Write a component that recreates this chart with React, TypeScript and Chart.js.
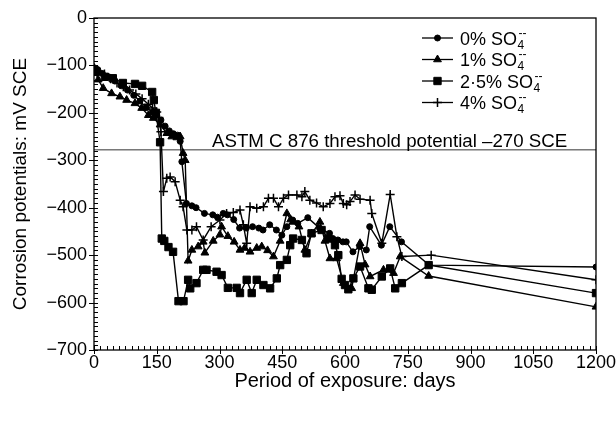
import React, { useEffect, useRef } from 'react';
import { Chart, registerables } from 'chart.js';
import { drawPoint } from 'chart.js/helpers';

Chart.register(...registerables);

const FONT = '"Liberation Sans", Arial, Helvetica, sans-serif';

// 0% SO4 (circles)
const days0 = [0, 9, 20, 35, 50, 65, 80, 95, 110, 125, 140, 150, 160, 170, 180, 190, 200, 206, 210, 221, 234, 244, 264, 284, 295, 309, 319, 334, 348, 364, 379, 394, 404, 420, 436, 449, 461, 475, 487, 511, 539, 563, 571, 583, 595, 603, 619, 635, 651, 659, 687, 707, 735, 801, 1200];
const mv0 = [-105, -109, -117, -124, -133, -143, -152, -163, -175, -189, -198, -205, -215, -228, -238, -244, -247, -260, -303, -391, -396, -400, -412, -415, -420, -412, -415, -425, -443, -443, -440, -443, -447, -436, -447, -458, -440, -426, -433, -421, -443, -454, -465, -468, -472, -472, -493, -482, -489, -440, -479, -440, -472, -521, -525];

// 1% SO4 (triangles)
const days1 = [0, 10, 22, 42, 62, 78, 98, 114, 130, 142, 158, 174, 186, 198, 206, 213, 218, 225, 234, 249, 261, 265, 285, 301, 305, 320, 335, 349, 360, 373, 389, 401, 415, 429, 445, 461, 470, 476, 490, 504, 520, 540, 552, 564, 580, 596, 616, 636, 648, 660, 692, 716, 732, 800, 1200];
const mv1 = [-105, -130, -148, -159, -166, -173, -180, -190, -205, -211, -225, -243, -250, -252, -250, -285, -300, -512, -489, -482, -472, -495, -470, -457, -440, -460, -472, -489, -485, -493, -485, -482, -490, -503, -470, -412, -425, -430, -440, -489, -455, -430, -470, -507, -507, -559, -570, -475, -520, -545, -531, -538, -503, -544, -609];

// 2.5% SO4 (squares)
const days25 = [0, 6, 26, 45, 69, 98, 115, 139, 143, 148, 158, 162, 168, 178, 189, 202, 214, 225, 230, 245, 261, 269, 293, 305, 320, 341, 349, 365, 377, 389, 405, 421, 437, 445, 461, 469, 476, 497, 508, 520, 544, 560, 576, 584, 592, 600, 608, 620, 636, 656, 664, 688, 708, 720, 736, 800, 1200];
const mv25 = [-108, -113, -124, -127, -137, -139, -143, -156, -173, -200, -262, -465, -470, -483, -493, -597, -597, -552, -570, -559, -531, -531, -535, -542, -569, -569, -580, -552, -580, -552, -563, -570, -549, -521, -510, -479, -465, -468, -496, -454, -447, -465, -479, -500, -550, -563, -572, -549, -524, -570, -573, -545, -528, -570, -559, -521, -580];

// 4% SO4 (plus)
const days4 = [0, 10, 25, 40, 55, 70, 85, 100, 115, 130, 140, 150, 155, 160, 166, 174, 182, 194, 206, 213, 222, 234, 245, 261, 280, 301, 317, 333, 349, 357, 365, 373, 389, 405, 417, 429, 441, 453, 465, 485, 497, 504, 516, 532, 548, 564, 576, 588, 596, 604, 612, 624, 636, 660, 664, 688, 708, 724, 736, 806, 1200];
const mv4 = [-108, -112, -118, -128, -137, -145, -152, -160, -170, -182, -190, -198, -210, -240, -366, -338, -335, -345, -384, -398, -447, -447, -440, -468, -440, -426, -412, -410, -405, -436, -475, -398, -401, -398, -380, -380, -398, -380, -373, -373, -377, -366, -384, -390, -398, -391, -377, -375, -391, -394, -387, -373, -382, -384, -412, -475, -372, -461, -503, -500, -552];

const xTickStep = 150;
const yTickStep = 100;
const thresholdValue = -278;
const thresholdLabel = 'ASTM C 876 threshold potential \u2013270 SCE';
const thresholdLabelDay = 282;
const legendLabels = ['0%', '1%', '2\u00b75%', '4%'];
const pointStyles = ['circle', 'triangle', 'rect', 'cross'];
const pointRadii = [3, 4.5, 5.2, 4.5];

const pts = (d: number[], v: number[]) => d.map((x, i) => ({ x, y: v[i] }));

const framePlugin = {
  id: 'frameTicks',
  afterDraw(chart: any) {
    const { ctx, chartArea: a, scales } = chart;
    const xs = scales.x;
    const ys = scales.y;
    ctx.save();
    ctx.strokeStyle = '#000';
    ctx.lineWidth = 1;
    ctx.beginPath();
    for (let d = xs.min; d <= xs.max; d += xTickStep / 10) {
      const px = Math.round(xs.getPixelForValue(d)) + 0.5;
      const major = d % xTickStep === 0;
      ctx.moveTo(px, a.bottom - 4);
      ctx.lineTo(px, a.bottom + (major ? 4 : 0));
    }
    for (let v = ys.min; v <= ys.max; v += yTickStep / 10) {
      const py = Math.round(ys.getPixelForValue(v)) + 0.5;
      const major = v % yTickStep === 0;
      ctx.moveTo(a.left + 4, py);
      ctx.lineTo(a.left - (major ? 5 : 0), py);
    }
    ctx.stroke();
    ctx.lineWidth = 1.3;
    ctx.strokeRect(a.left, a.top, a.right - a.left, a.bottom - a.top);
    ctx.restore();
  },
};

const thresholdPlugin = {
  id: 'thresholdText',
  afterDatasetsDraw(chart: any) {
    const { ctx, scales } = chart;
    const x = scales.x.getPixelForValue(thresholdLabelDay);
    const y = scales.y.getPixelForValue(thresholdValue);
    ctx.save();
    ctx.fillStyle = '#000';
    ctx.font = `18.7px ${FONT}`;
    ctx.textAlign = 'left';
    ctx.textBaseline = 'alphabetic';
    ctx.fillText(thresholdLabel, x, y - 3);
    ctx.restore();
  },
};

const legendPlugin = {
  id: 'customLegend',
  afterDraw(chart: any) {
    const { ctx, chartArea: a } = chart;
    const x0 = a.right - 174;
    const x1 = a.right - 143;
    const tx = a.right - 136;
    ctx.save();
    ctx.fillStyle = '#000';
    ctx.strokeStyle = '#000';
    legendLabels.forEach((lab, i) => {
      const cy = a.top + 20 + i * 21.5;
      ctx.lineWidth = 1.3;
      ctx.beginPath();
      ctx.moveTo(x0, cy);
      ctx.lineTo(x1, cy);
      ctx.stroke();
      ctx.lineWidth = i === 3 ? 1.5 : 1;
      drawPoint(ctx, { pointStyle: pointStyles[i], radius: pointRadii[i], rotation: 0, borderWidth: i === 3 ? 1.5 : 1 } as any, (x0 + x1) / 2, cy);
      const base = cy + 6.5;
      ctx.font = `18px ${FONT}`;
      ctx.textAlign = 'left';
      ctx.textBaseline = 'alphabetic';
      const main = lab + ' SO';
      ctx.fillText(main, tx, base);
      const w = ctx.measureText(main).width;
      ctx.font = `12px ${FONT}`;
      ctx.fillText('4', tx + w + 0.5, base + 4);
      ctx.fillText('--', tx + w + 1.5, base - 8);
    });
    ctx.restore();
  },
};

export default function App() {
  const ref = useRef<HTMLCanvasElement | null>(null);
  useEffect(() => {
    document.body.style.margin = '0';
    if (!ref.current) return;
    const mk = (label: string, d: number[], v: number[], i: number) => ({
      label,
      data: pts(d, v),
      borderColor: '#000',
      backgroundColor: '#000',
      borderWidth: 1.4,
      pointStyle: pointStyles[i],
      pointRadius: pointRadii[i],
      pointBorderWidth: i === 3 ? 1.5 : 1,
      tension: 0,
    });
    const chart = new Chart(ref.current, {
      type: 'line',
      data: {
        datasets: [
          mk(legendLabels[0], days0, mv0, 0),
          mk(legendLabels[1], days1, mv1, 1),
          mk(legendLabels[2], days25, mv25, 2),
          mk(legendLabels[3], days4, mv4, 3),
          {
            label: 'threshold',
            data: [{ x: 0, y: thresholdValue }, { x: 1200, y: thresholdValue }],
            borderColor: '#333',
            borderWidth: 1,
            pointRadius: 0,
          },
        ] as any,
      },
      options: {
        animation: false,
        responsive: false,
        layout: { padding: { top: 18, right: 20, left: 0, bottom: 0 } },
        plugins: { legend: { display: false }, tooltip: { enabled: false } },
        scales: {
          x: {
            type: 'linear',
            min: 0,
            max: 1200,
            ticks: {
              stepSize: xTickStep,
              font: { size: 18, family: FONT },
              color: '#000',
              padding: 2,
              maxRotation: 0,
              autoSkip: false,
              callback: (v: any) => String(v),
            },
            grid: { display: false, drawTicks: false },
            border: { display: false },
            title: { display: true, text: 'Period of exposure: days', font: { size: 20, family: FONT }, color: '#000', padding: { top: 0, bottom: 29 } },
            afterFit(s: any) { s.height = 72; s.paddingLeft = 0; s.paddingRight = 0; },
          },
          y: {
            type: 'linear',
            min: -700,
            max: 0,
            ticks: {
              stepSize: yTickStep,
              font: { size: 18, family: FONT },
              color: '#000',
              padding: 7,
              callback: (v: any) => (v < 0 ? '\u2212' + Math.abs(v) : String(v)),
            },
            grid: { display: false, drawTicks: false },
            border: { display: false },
            title: { display: true, text: 'Corrosion potentials: mV SCE', font: { size: 19, family: FONT }, color: '#000', padding: { top: 9, bottom: 0 } },
            afterFit(s: any) { s.width = 94; s.paddingTop = 0; s.paddingBottom = 0; },
          },
        },
      } as any,
      plugins: [framePlugin, thresholdPlugin, legendPlugin],
    });
    return () => chart.destroy();
  }, []);
  return (
    <div style={{ width: 616, height: 422, background: '#fff' }}>
      <canvas ref={ref} width={616} height={422} style={{ display: 'block' }} />
    </div>
  );
}
